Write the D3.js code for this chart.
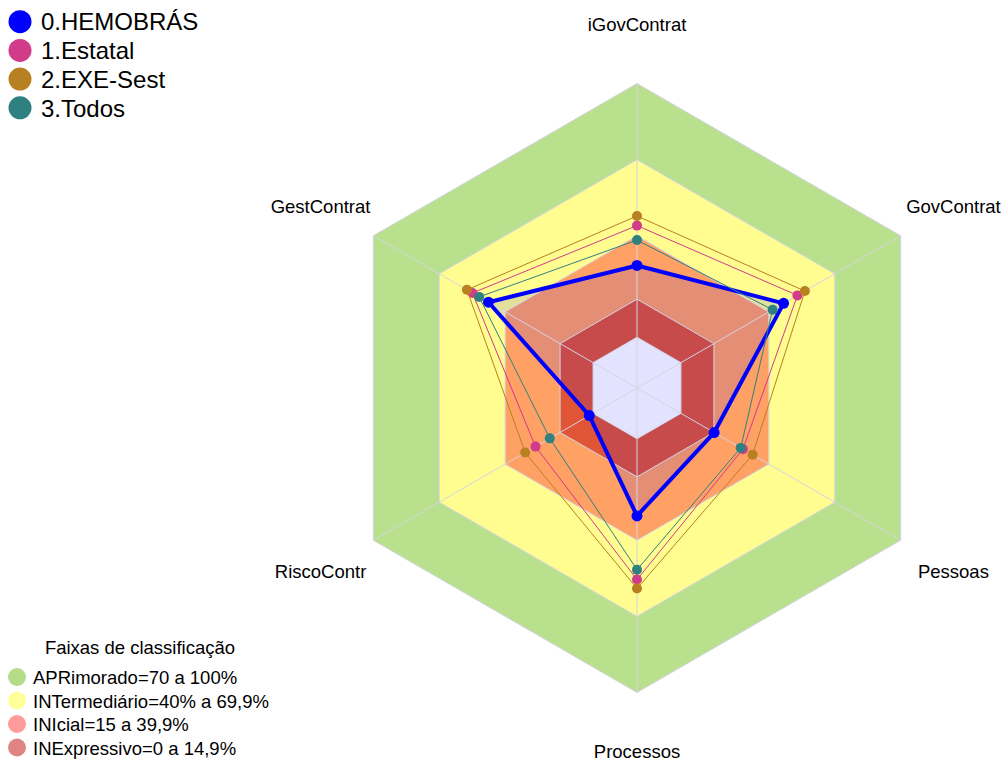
<!DOCTYPE html>
<head>
    <meta charset="utf-8">
    <script src="https://d3js.org/d3.v7.min.js"></script>
    <style>
        body { margin: 0; background: #fff; }
        text { font-family: "Liberation Sans", Arial, sans-serif; }
    </style>
</head>

<body>
    <div id="radar"></div>
</body>

<script>

    // axes, clockwise from the top
    const axes = ['iGovContrat', 'GovContrat', 'Pessoas', 'Processos', 'RiscoContr', 'GestContrat'];

    const seriesNames = ['0.HEMOBRÁS', '1.Estatal', '2.EXE-Sest', '3.Todos'];
    const hemobras = [28.3, 46.7, 15.1, 30.4, 1.7, 47.6];
    const estatal  = [44.0, 53.0, 28.2, 55.5, 26.2, 54.9];
    const exeSest  = [47.8, 56.4, 32.6, 59.0, 30.9, 57.4];
    const todos    = [38.3, 41.7, 27.2, 51.6, 19.7, 51.8];

    // classification bands (outer limit of each)
    const bandNames = ['APRimorado=70 a 100%', 'INTermediário=40% a 69,9%', 'INIcial=15 a 39,9%', 'INExpressivo=0 a 14,9%'];
    const bandLimits = [100, 70, 40, 15, 0];

    const width = 1005, height = 763;
    const cx = 637, cy = 388;

    const seriesColors = ['#0000ff', '#d23a8a', '#b88020', '#2f8080'];
    const bandColors = ['#b9e08c', '#fffc90', '#ffa064', '#e05535', '#ffffff'];
    const bandLegendColors = ['#b5dd88', '#ffff99', '#ff9b9b', '#e08383'];

    const svg = d3.select('#radar')
        .append('svg')
            .attr('width', width)
            .attr('height', height);

    const r = d3.scaleLinear()
        .domain([-20, 100])
        .range([0, 304.5]);

    const angle = d3.scaleLinear()
        .domain([0, axes.length])
        .range([0, 2 * Math.PI]);

    const point = (v, i) => [cx + r(v) * Math.sin(angle(i)), cy - r(v) * Math.cos(angle(i))];

    const hexLine = d3.line().curve(d3.curveLinearClosed);
    const ring = v => hexLine(axes.map((a, i) => point(v, i)));

    const g = svg.append('g');

    // bands
    g.selectAll('.band')
        .data(bandLimits)
        .join('path')
            .attr('d', d => ring(d))
            .attr('fill', (d, i) => bandColors[i]);

    // fill of the first series
    g.append('path')
        .attr('d', hexLine(hemobras.map((v, i) => point(v, i))))
        .attr('fill', '#0000ff')
        .attr('fill-opacity', 0.11);

    // grid
    g.selectAll('.ring')
        .data(bandLimits)
        .join('path')
            .attr('d', d => ring(d))
            .attr('fill', 'none')
            .attr('stroke', '#d4d4e4')
            .attr('stroke-width', 1);

    g.selectAll('.spoke')
        .data(axes)
        .join('line')
            .attr('x1', cx)
            .attr('y1', cy)
            .attr('x2', (d, i) => point(100, i)[0])
            .attr('y2', (d, i) => point(100, i)[1])
            .attr('stroke', '#d4d4e4')
            .attr('stroke-width', 1);

    // axis labels
    const labelShift = [2, 1, 1, -2, 1, 1];
    g.selectAll('.axisLabel')
        .data(axes)
        .join('text')
            .attr('x', (d, i) => point(124, i)[0])
            .attr('y', (d, i) => point(124, i)[1] + labelShift[i])
            .attr('dy', '0.35em')
            .attr('text-anchor', 'middle')
            .attr('font-size', 18.5)
            .attr('fill', '#000')
            .text(d => d);

    // series lines and points
    const series = [hemobras, estatal, exeSest, todos];
    series.forEach((vals, s) => {
        const pts = vals.map((v, i) => point(v, i));
        g.append('path')
            .attr('d', hexLine(pts))
            .attr('fill', 'none')
            .attr('stroke', seriesColors[s])
            .attr('stroke-width', s === 0 ? 4 : 1)
            .attr('stroke-linejoin', 'round');
        g.selectAll('.pt' + s)
            .data(pts)
            .join('circle')
                .attr('cx', d => d[0])
                .attr('cy', d => d[1])
                .attr('r', s === 0 ? 5.5 : 5)
                .attr('fill', seriesColors[s]);
    });

    // series legend
    const legend = svg.append('g');
    legend.selectAll('circle')
        .data(seriesNames)
        .join('circle')
            .attr('cx', 20)
            .attr('cy', (d, i) => 21.7 + i * 28.7)
            .attr('r', 11.5)
            .attr('fill', (d, i) => seriesColors[i]);
    legend.selectAll('text')
        .data(seriesNames)
        .join('text')
            .attr('x', 41)
            .attr('y', (d, i) => 22 + i * 28.7)
            .attr('dy', '0.35em')
            .attr('font-size', 24)
            .attr('fill', '#000')
            .text(d => d);

    // bands legend
    const bandLegend = svg.append('g');
    bandLegend.append('text')
        .attr('x', 140)
        .attr('y', 648)
        .attr('dy', '0.35em')
        .attr('text-anchor', 'middle')
        .attr('font-size', 18.5)
        .attr('fill', '#000')
        .text('Faixas de classificação');
    bandLegend.selectAll('circle')
        .data(bandNames)
        .join('circle')
            .attr('cx', 17)
            .attr('cy', (d, i) => 677 + i * 23.5)
            .attr('r', 9)
            .attr('fill', (d, i) => bandLegendColors[i]);
    bandLegend.selectAll('.item')
        .data(bandNames)
        .join('text')
            .attr('x', 33)
            .attr('y', (d, i) => 678 + i * 23.5)
            .attr('dy', '0.35em')
            .attr('font-size', 18.5)
            .attr('fill', '#000')
            .text(d => d);

</script>
</html>
